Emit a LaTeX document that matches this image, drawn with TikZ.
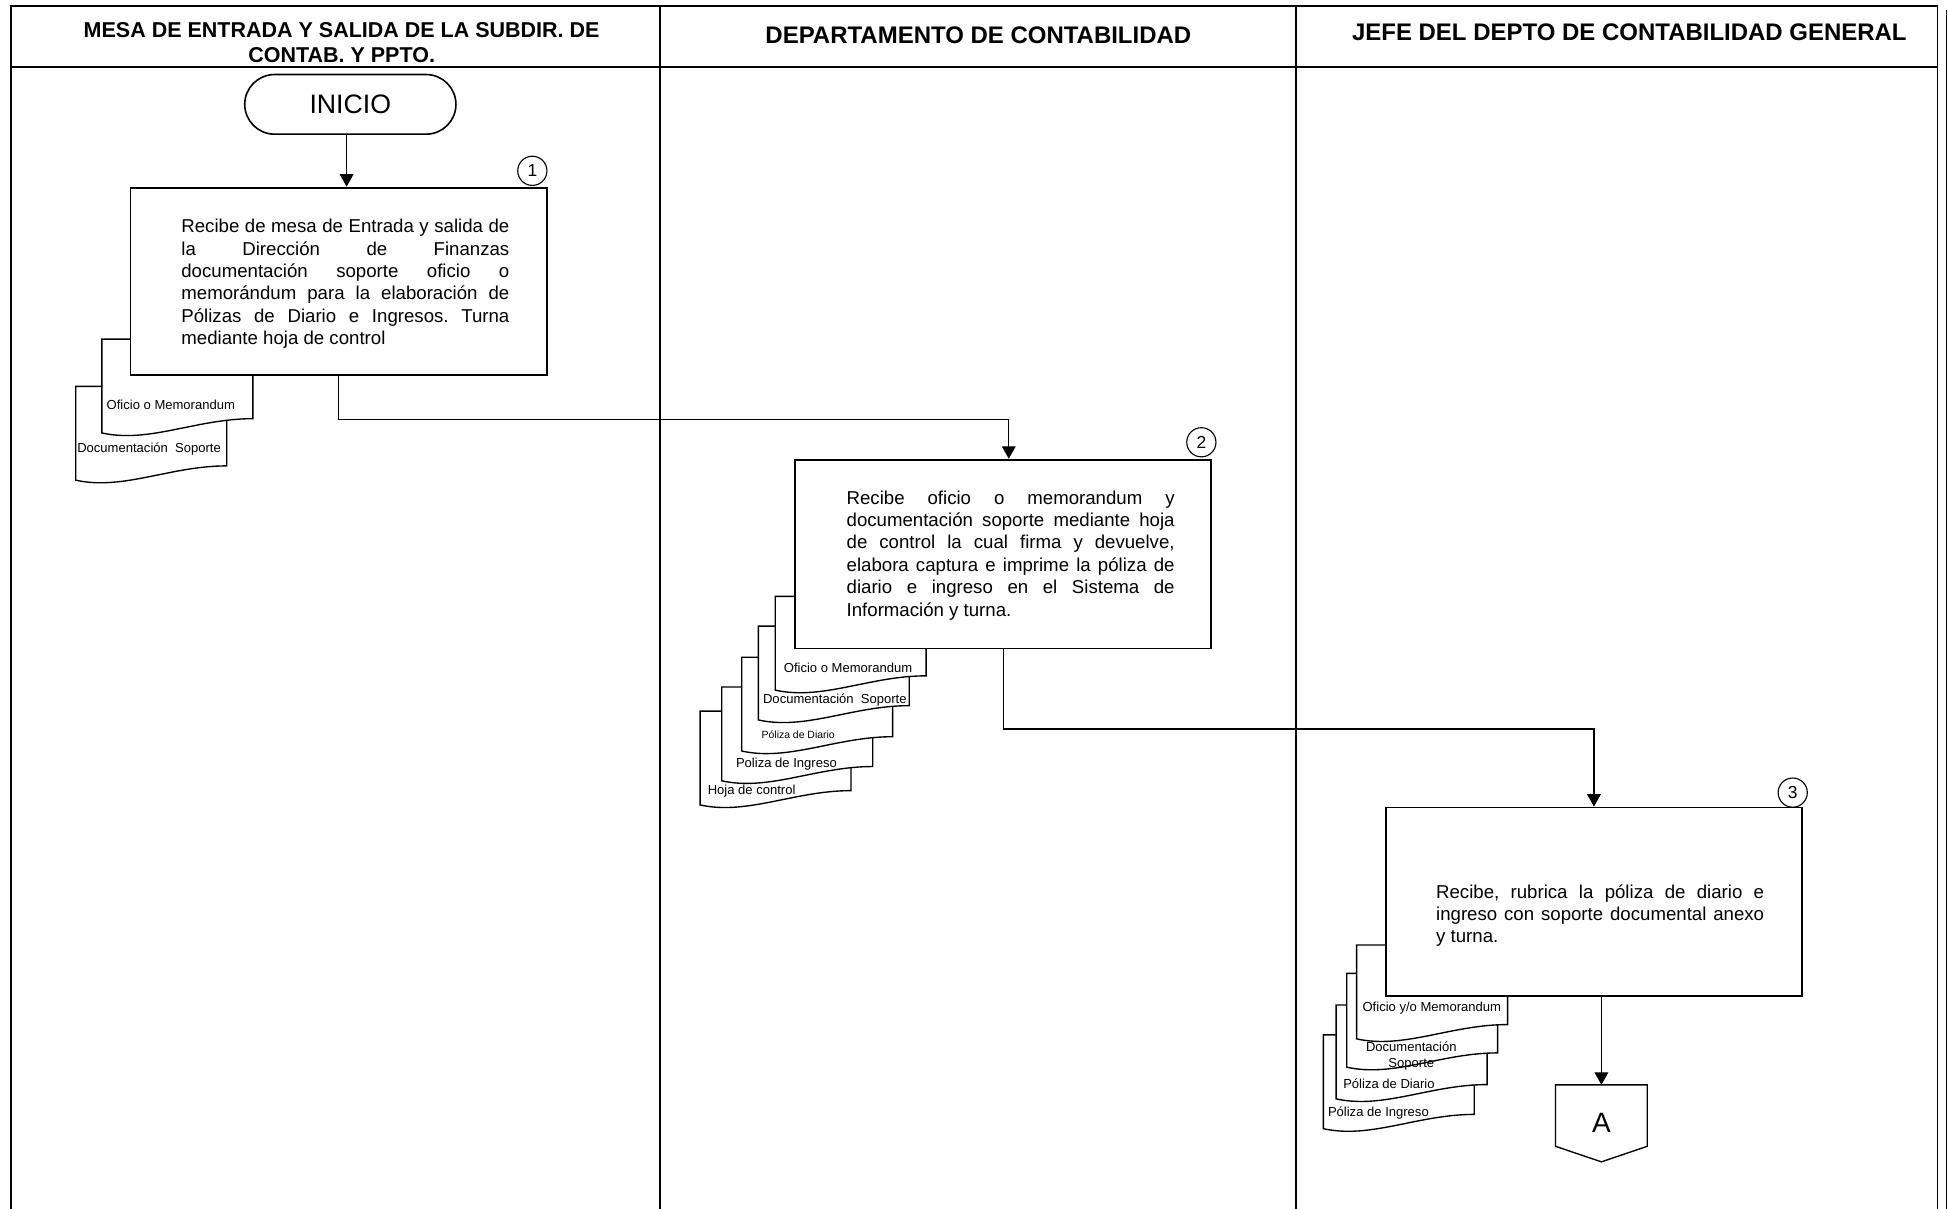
\documentclass[tikz,border=0pt]{standalone}
\usepackage{fontspec}
\setmainfont{Liberation Sans}
\usetikzlibrary{arrows.meta, positioning, calc}
\frenchspacing

\tikzset{
  lane/.style={line width=1.3pt},
  procbox/.style={draw, line width=1.5pt, fill=white, minimum width=335pt, minimum height=152pt, inner sep=0pt},
  proctext/.style={text width=264pt, align=justify, font=\fontsize{15}{18}\selectfont, inner sep=0pt},
  stepnum/.style={draw, circle, line width=0.9pt, minimum size=23.5pt, inner sep=0pt, font=\fontsize{14}{14}\selectfont},
  docline/.style={draw, line width=1.1pt, fill=white},
  doclabel/.style={font=\fontsize{10.5}{13}\selectfont, inner sep=0pt},
  flow/.style={-{Triangle[length=10pt,width=11pt]}, line width=0.9pt},
  hdr/.style={font=\fontsize{19.3}{22}\selectfont\bfseries, align=center, inner sep=0pt}
}

% document symbol, top left corner at (#1,#2)
\newcommand{\docpaper}[2]{%
  \draw[docline] (#1,#2) -- (#1+121.5,#2) -- (#1+121.5,#2+64)
    .. controls (#1+76,#2+64) and (#1+38,#2+84) .. (#1,#2+75.5) -- cycle;}

\begin{document}
\begin{tikzpicture}[x=1pt,y=-1pt]
\useasboundingbox (0,0) rectangle (1568,973);

% swimlanes
\draw[lane] (9,973) -- (9,4.8) -- (1559.5,4.8) -- (1559.5,973);
\draw[lane] (9,53.7) -- (1559.5,53.7);
\draw[lane] (531,4.8) -- (531,973);
\draw[lane] (1043,4.8) -- (1043,973);
\draw[line width=1pt] (1566.5,8) -- (1566.5,973);
\node[hdr, font=\fontsize{17.3}{20}\selectfont\bfseries] (h1) at (275,34) {MESA DE ENTRADA Y SALIDA DE LA SUBDIR. DE\\CONTAB. Y PPTO.};
\node[hdr] (h2) at (787.5,28) {DEPARTAMENTO DE CONTABILIDAD};
\node[hdr] (h3) at (1311.5,26) {JEFE DEL DEPTO DE CONTABILIDAD GENERAL};

% inicio
\node[draw, line width=1.3pt, rounded corners=24pt, minimum width=170pt, minimum height=48pt,
  font=\fontsize{21.5}{22}\selectfont] (inicio) at (282,84) {INICIO};

% step 1
\docpaper{61}{311}
\node[doclabel] (l1b) at (120,361.5) {Documentación\ \ Soporte};
\docpaper{82}{273}
\node[doclabel] (l1a) at (137.5,326) {Oficio o Memorandum};
\node[procbox, minimum height=151pt] (p1) at (272.5,226.5) {};
\node[proctext] (t1) at (278,228.5) {Recibe de mesa de Entrada y salida de\linebreak
la Dirección de Finanzas\linebreak
documentación soporte oficio o\linebreak
memorándum para la elaboración de\linebreak
Pólizas de Diario e Ingresos. Turna\linebreak
mediante hoja de control};
\node[stepnum] (c1) at (428.5,137.5) {1};

% step 2
\docpaper{563.5}{572.4}
\node[doclabel] (l2e) at (605,637) {Hoja de control};
\docpaper{581}{553}
\node[doclabel] (l2d) at (633,615) {Poliza de Ingreso};
\docpaper{597}{529}
\node[doclabel, font=\fontsize{8.4}{10}\selectfont] (l2c) at (642.5,591) {Póliza de Diario};
\docpaper{610.4}{504}
\node[doclabel] (l2b) at (672,563.5) {Documentación\ \ Soporte};
\docpaper{624}{480}
\node[doclabel] (l2a) at (682.6,537.7) {Oficio o Memorandum};
\node[procbox] (p2) at (807.5,446) {};
\node[proctext] (t2) at (813.5,447) {Recibe oficio o memorandum y\linebreak
documentación soporte mediante hoja\linebreak
de control la cual firma y devuelve,\linebreak
elabora captura e imprime la póliza de\linebreak
diario e ingreso en el Sistema de\linebreak
Información y turna.};
\node[stepnum] (c2) at (967,356) {2};

% step 3
\docpaper{1065.2}{833}
\node[doclabel] (l3d) at (1109.5,895.7) {Póliza de Ingreso};
\docpaper{1075.5}{809}
\node[doclabel] (l3c) at (1118,872.6) {Póliza de Diario};
\docpaper{1084}{783.5}
\node[doclabel, align=center] (l3b) at (1136,850) {Documentación\\Soporte};
\docpaper{1092}{760.7}
\node[doclabel] (l3a) at (1152.5,811.7) {Oficio y/o Memorandum};
\node[procbox] (p3) at (1283,726) {};
\node[proctext] (t3) at (1288,737) {Recibe, rubrica la póliza de diario e\linebreak
ingreso con soporte documental anexo\linebreak
y turna.};
\node[stepnum] (c3) at (1443,638) {3};

% off page connector
\node[minimum width=73.4pt, minimum height=61.6pt, inner sep=0pt,
  font=\fontsize{22.5}{23}\selectfont] (conA) at (1289,904.2) {A};
\draw[line width=1.1pt] (conA.north west) -- (conA.north east) -- ($(conA.south east)+(0,-12.5)$)
  -- (conA.south) -- ($(conA.south west)+(0,-12.5)$) -- cycle;

% flow
\draw[flow] ([xshift=-3pt]inicio.south) -- ([xshift=-3pt]inicio.south |- p1.north);
\draw[flow] (p1.south) -- ++(0,35) -| ([xshift=4.5pt]p2.north);
\draw[flow] (p2.south) -- ++(0,64) -| (p3.north);
\draw[flow] (p3.south -| conA.north) -- (conA.north);
\end{tikzpicture}
\end{document}
